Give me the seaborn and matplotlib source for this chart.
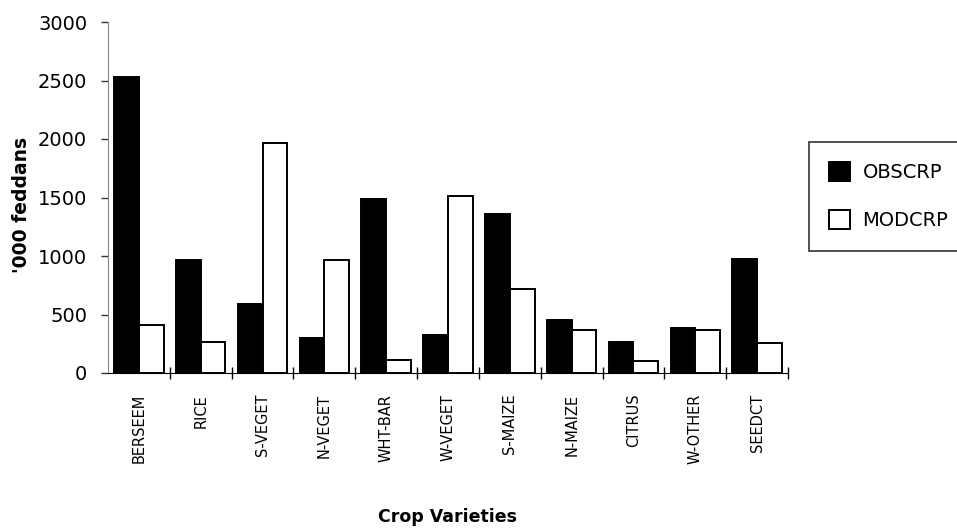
import numpy as np
import pandas as pd
import matplotlib
matplotlib.use("Agg")
import matplotlib.pyplot as plt
import seaborn as sns

# values ('000 feddans)
crops = ["BERSEEM", "RICE", "S-VEGET", "N-VEGET", "WHT-BAR", "W-VEGET",
         "S-MAIZE", "N-MAIZE", "CITRUS", "W-OTHER", "SEEDCT"]
obscrp = [2530, 966, 590, 300, 1487, 325, 1359, 453, 265, 385, 974]
modcrp = [410, 265, 1966, 966, 110, 1513, 718, 367, 103, 367, 256]
series = ["OBSCRP", "MODCRP"]

df = pd.DataFrame({
    "crop": crops * 2,
    "value": obscrp + modcrp,
    "series": [series[0]] * len(crops) + [series[1]] * len(crops),
})

sns.set_style("white")
plt.rcParams["font.family"] = ["DejaVu Sans"]
plt.rcParams.update({"text.color": "black", "axes.labelcolor": "black",
                     "xtick.color": "black", "ytick.color": "black"})

fig = plt.figure(figsize=(9.57, 5.30), dpi=100)
ax = fig.add_axes([108 / 957, 1 - 373 / 530, (788 - 108) / 957, (373 - 22) / 530])

sns.barplot(data=df, x="crop", y="value", hue="series", order=crops,
            hue_order=series, palette=["black", "white"], edgecolor="black",
            linewidth=1.4, width=0.8, ax=ax)

ax.set_ylim(0, 3000)
ax.set_xlim(-0.5, len(crops) - 0.5)
ax.set_yticks(np.arange(0, 3001, 500))
ax.tick_params(axis="y", left=True, labelsize=14, length=5, width=1,
               direction="out", color="#333333", pad=10)
ax.tick_params(axis="x", which="major", bottom=False, length=0, labelsize=10.5,
               labelrotation=90, pad=15)
ax.set_xticks(np.arange(0.5, len(crops) - 0.5 + 0.01, 1), minor=True)
ax.tick_params(axis="x", which="minor", bottom=True, length=8, direction="inout",
               color="black", width=1)

for s in ["top", "right"]:
    ax.spines[s].set_visible(False)
ax.spines["left"].set_color("#888888")
ax.spines["bottom"].set_color("black")

ax.set_ylabel("'000 feddans", fontsize=13.5, fontweight="bold")
ax.yaxis.set_label_coords((31 - 108) / 680, (373 - 205) / 351)
ax.set_xlabel("Crop Varieties", fontsize=12.5, fontweight="bold")
ax.xaxis.set_label_coords(0.5, (373 - 508) / 351)

handles, labels = ax.get_legend_handles_labels()
ax.legend_.remove()
leg = fig.legend(handles, labels, loc="upper left",
                 bbox_to_anchor=(809 / 957, 1 - 142 / 530), fontsize=14,
                 frameon=True, fancybox=False, edgecolor="black",
                 handlelength=1.08, handleheight=1.08, labelspacing=1.45,
                 borderpad=1.05, handletextpad=0.62, borderaxespad=0)
leg.get_frame().set_linewidth(1.2)

fig.savefig("out.png", dpi=100, facecolor="white")
